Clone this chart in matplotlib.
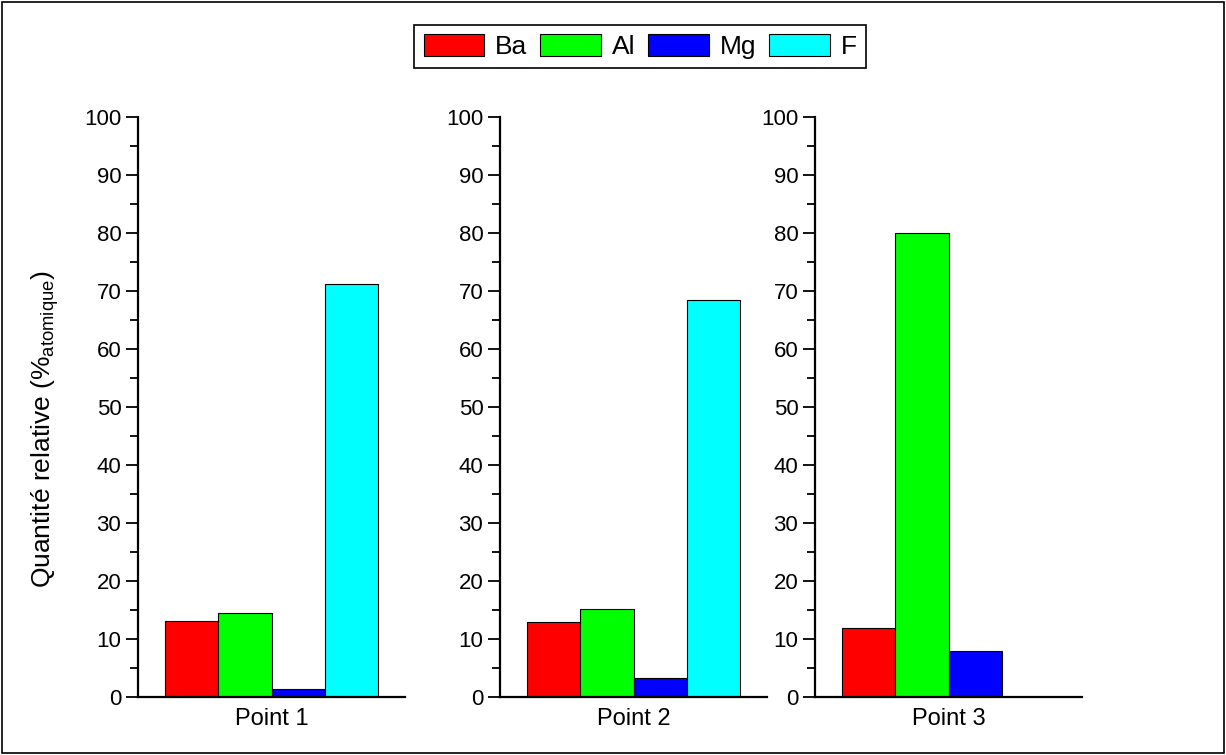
import numpy as np
import matplotlib.pyplot as plt
from matplotlib.patches import Rectangle
from matplotlib.ticker import MultipleLocator

plt.rcParams['font.family'] = ['Liberation Sans', 'DejaVu Sans']

elements = ['Ba', 'Al', 'Mg', 'F']
colors = ['#ff0000', '#00ff00', '#0000ff', '#00ffff']
points = ['Point 1', 'Point 2', 'Point 3']
point1 = [13.1, 14.4, 1.4, 71.2]
point2 = [12.9, 15.1, 3.3, 68.4]
point3 = [11.9, 80.0, 7.9, 0.0]
values = [point1, point2, point3]

fig = plt.figure(figsize=(12.26, 7.55), dpi=100)

lefts = [138, 500, 815]
W, H = 1226.0, 755.0
x = np.arange(len(elements))

handles = None
for i, (left, name, vals) in enumerate(zip(lefts, points, values)):
    ax = fig.add_axes([left / W, 58 / H, 267 / W, 580 / H])
    bars = []
    for j in range(len(elements)):
        if vals[j] > 0:
            b = ax.bar(x[j], vals[j], width=1.0, color=colors[j], edgecolor='black',
                       linewidth=0.8, label=elements[j])
        else:
            b = ax.bar(x[j], 0, width=1.0, color=colors[j], edgecolor='none',
                       linewidth=0, label=elements[j])
        bars.append(b)
    if handles is None:
        handles = bars
    ax.set_xlim(-1, 4)
    ax.set_ylim(0, 100)
    ax.set_xticks([1.5])
    ax.set_xticklabels([name], fontsize=17)
    ax.tick_params(axis='x', length=0, pad=8)
    ax.yaxis.set_major_locator(MultipleLocator(10))
    ax.yaxis.set_minor_locator(MultipleLocator(5))
    ax.tick_params(axis='y', which='major', direction='out', length=9, width=1.3,
                   labelsize=16, pad=3)
    ax.tick_params(axis='y', which='minor', direction='out', length=6, width=1.3)
    for s in ['top', 'right']:
        ax.spines[s].set_visible(False)
    for s in ['left', 'bottom']:
        ax.spines[s].set_linewidth(1.6)
    if i == 0:
        ax.set_ylabel('Quantité relative (%$_{\\mathregular{atomique}}$)', fontsize=19)
        ax.yaxis.set_label_coords(-0.29, 0.462)

leg = fig.legend(handles, elements, loc='center', bbox_to_anchor=(640 / W, 1 - 46.5 / H),
                 ncol=4, fontsize=19, frameon=True, fancybox=False, framealpha=1,
                 edgecolor='black', handlelength=2.3, handleheight=0.9,
                 handletextpad=0.4, columnspacing=0.5, borderpad=0.35)
leg.get_frame().set_linewidth(1.2)

fig.patches.append(Rectangle((2 / W, 2 / H), 1 - 4 / W, 1 - 4 / H, transform=fig.transFigure,
                             fill=False, edgecolor='black', linewidth=1.2))

plt.savefig('out.png', dpi=100)
